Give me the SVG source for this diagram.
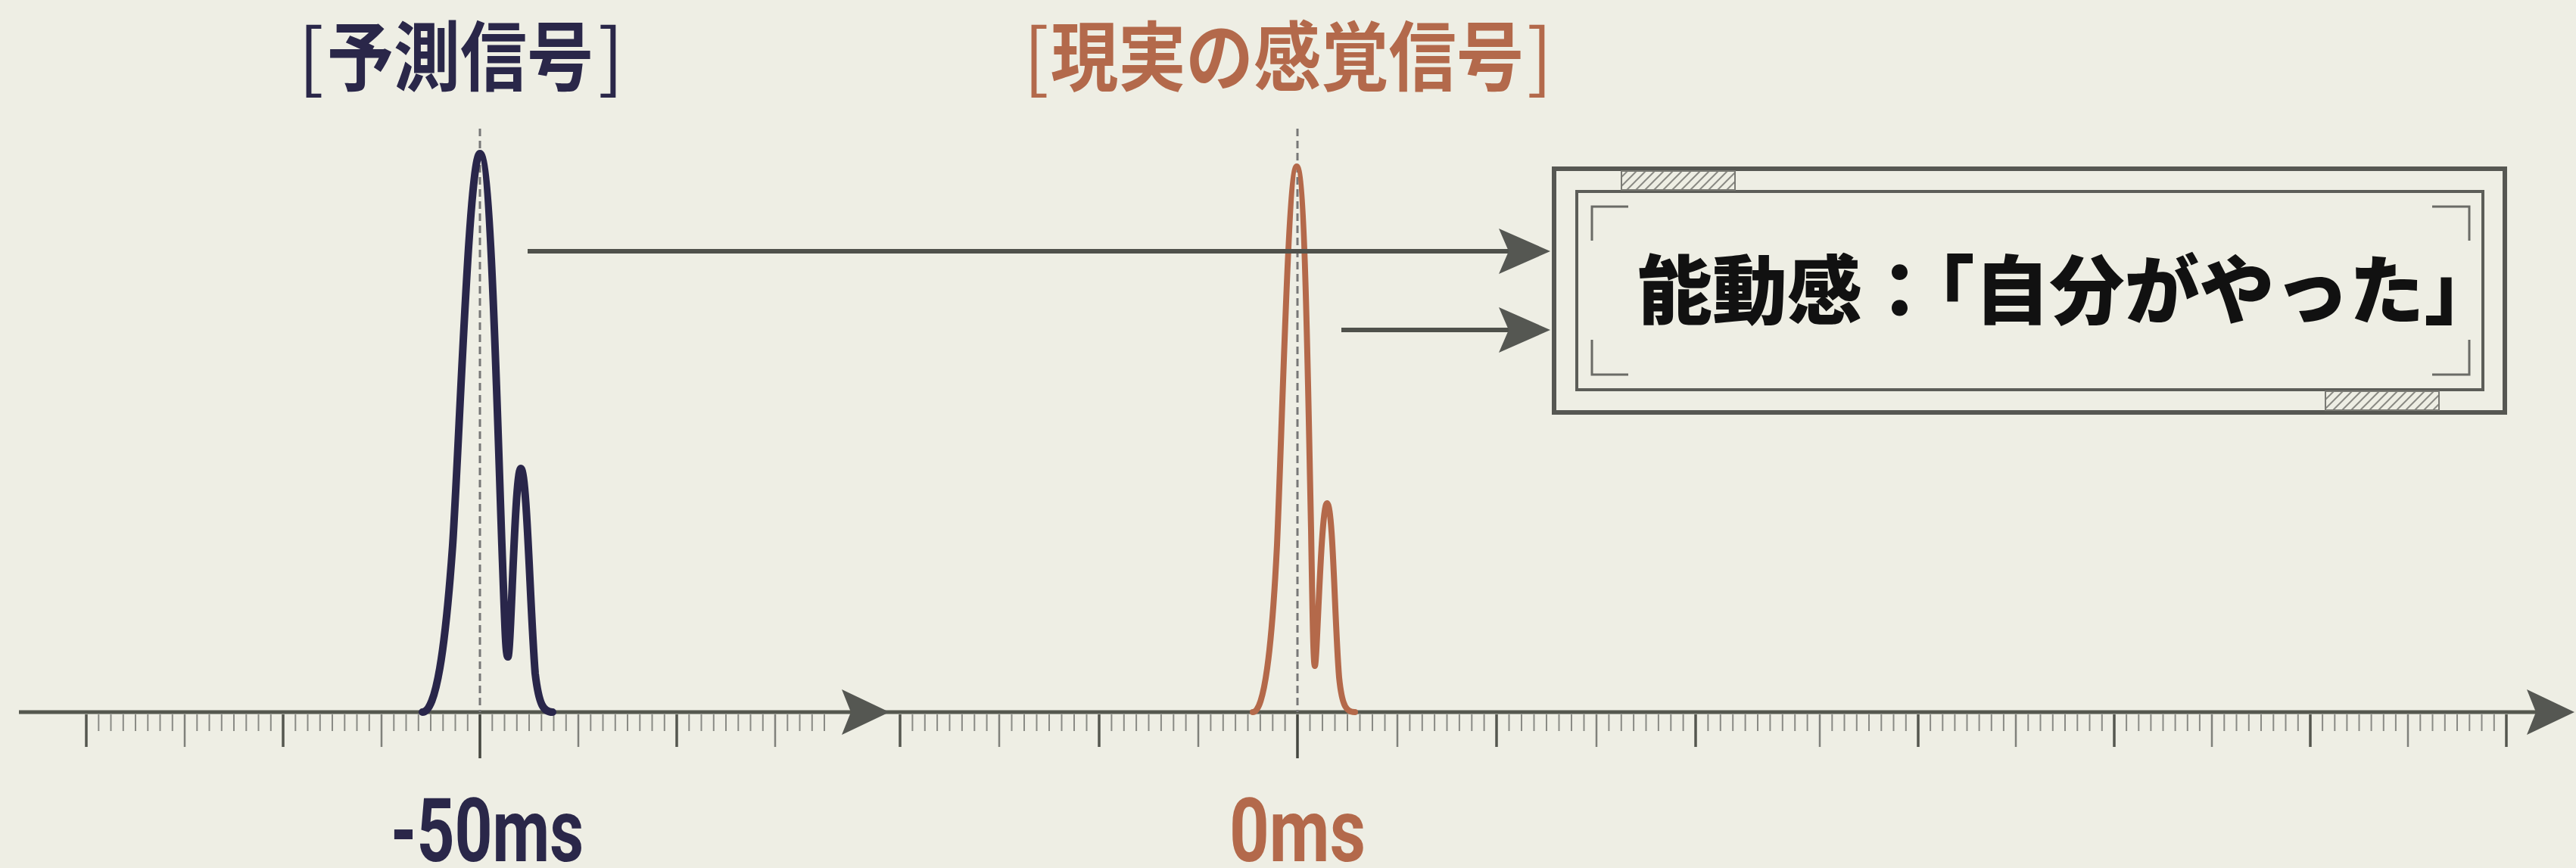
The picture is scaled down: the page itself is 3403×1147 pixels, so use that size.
<svg xmlns="http://www.w3.org/2000/svg" width="3403" height="1147" viewBox="0 0 3403 1147">
<defs>
<style>
.bg{fill:#eeeee4}
.title{font-family:"Noto Sans CJK JP","Noto Sans CJK SC",sans-serif;font-weight:700;font-size:100px}
.br{font-family:"Noto Sans CJK JP","Noto Sans CJK SC",sans-serif;font-weight:400;font-size:100px}
.ms{font-family:Roboto,"Liberation Sans",sans-serif;font-weight:700;font-size:116px}
.pred{fill:#2a2749}
.real{fill:#b3694b}
.dash{stroke:#777;stroke-width:3;stroke-dasharray:10 6;fill:none}
.minor{stroke:#8a8b85;stroke-width:2;fill:none}
.majorL{stroke:#80817b;stroke-width:2.5;fill:none}
.majorD{stroke:#55574f;stroke-width:3.5;fill:none}
.center{stroke:#44463f;stroke-width:3.5;fill:none}
.conn{stroke:#4f514b;stroke-width:6;fill:none}
.head{fill:#555752}
.boxtext{font-family:"Noto Sans CJK JP","Noto Sans CJK SC",sans-serif;font-weight:900;font-size:99px;fill:#111}
</style>
<path id="ah" d="M0,0 L63,30 L0,60 L12,30 Z"/>
<marker id="arr" markerUnits="userSpaceOnUse" markerWidth="70" markerHeight="62" refX="20" refY="30" orient="auto" viewBox="0 0 70 62">
<path d="M0,0 L68,30 L0,60 L13,30 Z" fill="#555752"/>
</marker>
<pattern id="hatch" patternUnits="userSpaceOnUse" width="12" height="12">
<path d="M-3,3 L3,-3 M0,12 L12,0 M9,15 L15,9" stroke="#8a8a84" stroke-width="2"/>
</pattern>
</defs>
<rect class="bg" x="0" y="0" width="3403" height="1147"/>

<g id="axis">
<line x1="25" y1="941" x2="3350" y2="941" stroke="#55584f" stroke-width="5"/>
<path class="minor" d="M130.3 944v22M146.5 944v22M162.8 944v22M179 944v22M195.3 944v22M211.5 944v22M227.8 944v22M260.3 944v22M276.5 944v22M292.8 944v22M309 944v22M325.3 944v22M341.5 944v22M357.8 944v22M390.3 944v22M406.5 944v22M422.8 944v22M439 944v22M455.3 944v22M471.5 944v22M487.8 944v22M520.3 944v22M536.5 944v22M552.8 944v22M569 944v22M585.3 944v22M601.5 944v22M617.8 944v22M650.3 944v22M666.5 944v22M682.8 944v22M699 944v22M715.3 944v22M731.5 944v22M747.8 944v22M780.3 944v22M796.5 944v22M812.8 944v22M829 944v22M845.3 944v22M861.5 944v22M877.8 944v22M910.3 944v22M926.5 944v22M942.8 944v22M959 944v22M975.3 944v22M991.5 944v22M1007.8 944v22M1040.3 944v22M1056.5 944v22M1072.8 944v22M1089 944v22
M1205.4 944v22M1221.8 944v22M1238.1 944v22M1254.5 944v22M1270.9 944v22M1287.3 944v22M1303.6 944v22M1336.5 944v22M1353 944v22M1369.5 944v22M1386 944v22M1402.5 944v22M1419 944v22M1435.5 944v22M1468.4 944v22M1484.8 944v22M1501.1 944v22M1517.5 944v22M1533.9 944v22M1550.3 944v22M1566.6 944v22M1599.4 944v22M1615.8 944v22M1632.1 944v22M1648.5 944v22M1664.9 944v22M1681.3 944v22M1697.6 944v22M1730.5 944v22M1747 944v22M1763.5 944v22M1780 944v22M1796.5 944v22M1813 944v22M1829.5 944v22M1862.4 944v22M1878.8 944v22M1895.1 944v22M1911.5 944v22M1927.9 944v22M1944.3 944v22M1960.6 944v22M1993.5 944v22M2010 944v22M2026.5 944v22M2043 944v22M2059.5 944v22M2076 944v22M2092.5 944v22M2125.4 944v22M2141.8 944v22M2158.1 944v22M2174.5 944v22M2190.9 944v22M2207.3 944v22M2223.6 944v22M2256.4 944v22M2272.8 944v22M2289.2 944v22M2305.6 944v22M2322 944v22M2338.4 944v22M2354.8 944v22M2371.2 944v22M2387.6 944v22M2420.3 944v22M2436.5 944v22M2452.8 944v22M2469 944v22M2485.3 944v22M2501.5 944v22M2517.8 944v22M2550.1 944v22M2566.3 944v22M2582.4 944v22M2598.5 944v22M2614.6 944v22M2630.8 944v22M2646.9 944v22M2679.3 944v22M2695.5 944v22M2711.8 944v22M2728 944v22M2744.3 944v22M2760.5 944v22M2776.8 944v22M2809.1 944v22M2825.3 944v22M2841.4 944v22M2857.5 944v22M2873.6 944v22M2889.8 944v22M2905.9 944v22M2938.3 944v22M2954.5 944v22M2970.8 944v22M2987 944v22M3003.3 944v22M3019.5 944v22M3035.8 944v22M3068.1 944v22M3084.3 944v22M3100.4 944v22M3116.5 944v22M3132.6 944v22M3148.8 944v22M3164.9 944v22M3197.3 944v22M3213.5 944v22M3229.8 944v22M3246 944v22M3262.3 944v22M3278.5 944v22M3294.8 944v22"/>
<path class="majorL" d="M244 944v43M504 944v43M764 944v43M1024 944v43M1320 944v43M1583 944v43M1846 944v43M2109 944v43M2404 944v43M2663 944v43M2922 944v43M3181 944v43"/>
<path class="majorD" d="M114 944v43M374 944v43M894 944v43M1189 944v43M1452 944v43M1977 944v43M2240 944v43M2534 944v43M2793 944v43M3052 944v43M3311 944v43"/>
<path class="center" d="M634 944v58M1714 944v58"/>
<use href="#ah" class="head" x="1112" y="911"/>
<use href="#ah" class="head" x="3338" y="911"/>
</g>

<g id="signal-pred">
<line class="dash" x1="634" y1="170" x2="634" y2="941"/>
<path d="M558 941 C576 941,588 860,598 720 C607 580,620 203,634 203 C648 203,656 520,663 720 C667 830,668 868,671 868 C675 868,680 619,688 619 C696 619,700 800,707 890 C712 932,718 941,730 941" fill="none" stroke="#29264a" stroke-width="10" stroke-linejoin="round" stroke-linecap="round"/>
</g>

<g id="signal-real">
<line class="dash" x1="1714" y1="170" x2="1714" y2="941"/>
<path d="M1655 941 C1670 941,1680 860,1687 720 C1694 560,1702 220,1713 220 C1724 220,1728 520,1732 700 C1734 820,1735 880,1737 880 C1740 880,1745 665,1753 665 C1761 665,1763 820,1769 895 C1773 935,1779 941,1790 941" fill="none" stroke="#b4694a" stroke-width="8" stroke-linejoin="round" stroke-linecap="round"/>
</g>

<g id="label-pred">
<text class="br pred" x="394" y="112">[</text>
<text class="title pred" transform="translate(432 112) scale(0.88 1)">予測信号</text>
<text class="br pred" x="790" y="112">]</text>
</g>
<g id="label-real">
<text class="br real" x="1352" y="112">[</text>
<text class="title real" transform="translate(1388 112) scale(0.893 1)">現実の感覚信号</text>
<text class="br real" x="2017" y="112">]</text>
</g>
<g id="time-pred">
<text class="ms pred" x="516" y="1138" textLength="255" lengthAdjust="spacingAndGlyphs">-50ms</text>
</g>
<g id="time-real">
<text class="ms real" x="1624" y="1138" textLength="180" lengthAdjust="spacingAndGlyphs">0ms</text>
</g>

<g id="agency-box">
<rect x="2053" y="223" width="1256" height="322" fill="none" stroke="#565752" stroke-width="6"/>
<rect x="2083" y="253" width="1197" height="262" fill="none" stroke="#5c5d58" stroke-width="4"/>
<rect x="2142" y="226" width="150" height="25" fill="url(#hatch)" stroke="#7a7a74" stroke-width="2"/>
<rect x="3072" y="517" width="150" height="25" fill="url(#hatch)" stroke="#7a7a74" stroke-width="2"/>
<path d="M2103 318V273H2151M3213 273H3262V318M2103 449V495H2151M3213 495H3262V449" fill="none" stroke="#6a6b66" stroke-width="3"/>
<text class="boxtext" x="2163" y="420">能動感：「自分がやった」</text>
</g>

<g id="connectors">
<line class="conn" x1="697" y1="332" x2="2000" y2="332" marker-end="url(#arr)"/>
<line class="conn" x1="1772" y1="436" x2="2000" y2="436" marker-end="url(#arr)"/>
</g>
</svg>
